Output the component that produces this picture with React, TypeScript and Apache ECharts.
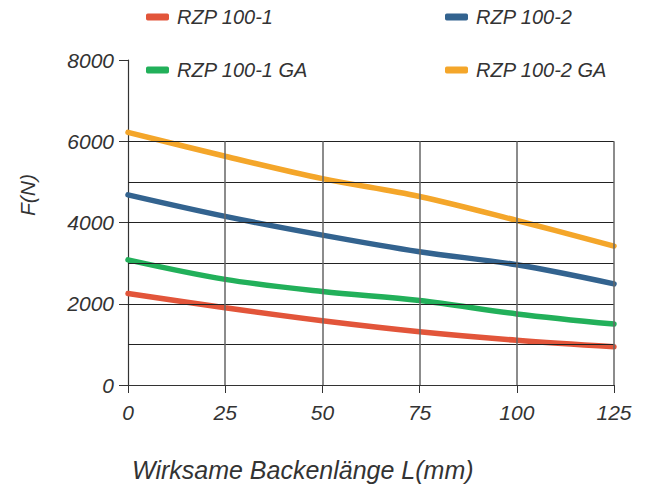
import React, { useEffect, useRef } from "react";
import * as echarts from "echarts";

const xValues = [0, 25, 50, 75, 100, 125];
const seriesNames = ["RZP 100-1", "RZP 100-2", "RZP 100-1 GA", "RZP 100-2 GA"];
const rzp1 = [2250, 1900, 1580, 1310, 1100, 940];
const rzp2 = [4680, 4150, 3690, 3280, 2960, 2490];
const rzp1ga = [3080, 2600, 2300, 2080, 1750, 1500];
const rzp2ga = [6220, 5630, 5080, 4640, 4050, 3420];
const colors = ["#e2553a", "#33638f", "#22b05a", "#f4a62a"];
const gridYValues = [1000, 2000, 3000, 4000, 5000, 6000];
const gridXValues = [25, 50, 75, 100, 125];
const xTitle = "Wirksame Backenlänge L(mm)";
const yTitle = "F(N)";

const FONT = "'Liberation Sans', Arial, sans-serif";

export default function App() {
  const ref = useRef<HTMLDivElement>(null);
  useEffect(() => {
    if (!ref.current) return;
    const chart = echarts.init(ref.current, null, { renderer: "svg" });
    const allSeries = [rzp1, rzp2, rzp1ga, rzp2ga];
    const txt = { fontFamily: FONT, fontStyle: "italic", color: "#333" };
    const legendPos = [
      { left: 146, top: 7 },
      { left: 445, top: 7 },
      { left: 146, top: 60 },
      { left: 445, top: 60 },
    ];
    const option: any = {
      animation: false,
      backgroundColor: "#fff",
      legend: seriesNames.map((n, i) => ({
        data: [n],
        left: legendPos[i].left,
        top: legendPos[i].top,
        padding: 0,
        icon: "roundRect",
        itemWidth: 23,
        itemHeight: 7,
        itemGap: 8,
        textStyle: { ...txt, fontSize: 20, padding: [0, 0, 0, 3] },
      })),
      grid: { left: 128, right: 35, top: 60, bottom: 106 },
      xAxis: {
        type: "value",
        min: 0,
        max: 125,
        interval: 25,
        axisLine: { lineStyle: { color: "#333", width: 1.2 } },
        axisTick: { show: true, length: 8, lineStyle: { color: "#333" } },
        axisLabel: { ...txt, fontSize: 21, margin: 17, formatter: (v: number) => String(v) },
        splitLine: { show: false },
      },
      yAxis: {
        type: "value",
        min: 0,
        max: 8000,
        interval: 2000,
        axisLine: { show: true, lineStyle: { color: "#333", width: 1.2 } },
        axisTick: { show: true, length: 9, lineStyle: { color: "#333" } },
        axisLabel: { ...txt, fontSize: 21, margin: 14, formatter: (v: number) => String(v) },
        splitLine: { show: false },
      },
      graphic: [
        {
          type: "text",
          left: 17,
          top: 174,
          rotation: Math.PI / 2,
          style: { text: yTitle, font: `italic 21px ${FONT}`, fill: "#333" },
        },
        {
          type: "text",
          left: 132,
          top: 457,
          style: { text: xTitle, font: `italic 25px ${FONT}`, fill: "#333" },
        },
      ],
      series: [
        {
          type: "line",
          data: [],
          silent: true,
          markLine: {
            silent: true,
            symbol: "none",
            label: { show: false },
            data: [
              ...gridYValues.map((v) => [
                { coord: [0, v], lineStyle: { color: "#222", width: 1, type: "solid" } },
                { coord: [125, v] },
              ]),
              ...gridXValues.map((v) => [
                { coord: [v, 0], lineStyle: { color: "#666", width: 1.5, type: "solid" } },
                { coord: [v, 6000] },
              ]),
            ],
          },
        },
        ...seriesNames.map((n, i) => ({
          name: n,
          type: "line",
          smooth: 0.35,
          showSymbol: false,
          symbol: "none",
          color: colors[i],
          lineStyle: { width: 5.5, color: colors[i], cap: "round" },
          data: xValues.map((x, j) => [x, allSeries[i][j]]),
          z: 3,
        })),
      ],
    };
    chart.setOption(option);
    return () => chart.dispose();
  }, []);
  return (
    <div
      ref={ref}
      style={{ position: "absolute", left: 0, top: 0, width: 649, height: 491 }}
    />
  );
}
